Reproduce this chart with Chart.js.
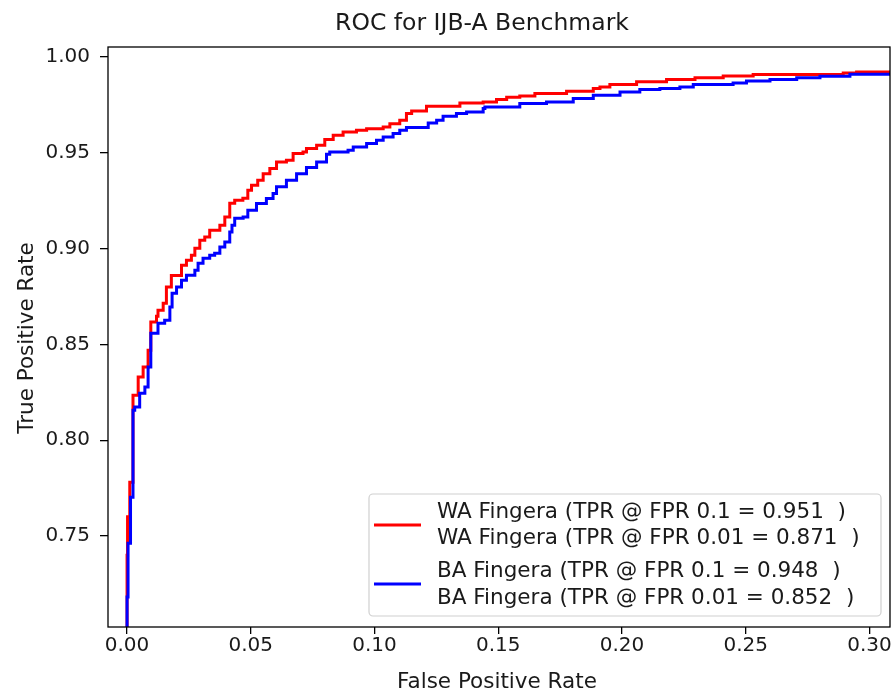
<!DOCTYPE html>
<html>
<head>
<meta charset="utf-8">
<script src="https://cdn.jsdelivr.net/npm/chart.js@4.4.1/dist/chart.umd.min.js"></script>
<style>
  html, body { margin: 0; padding: 0; background: #fff; }
  #roc { display: block; }
</style>
</head>
<body>
<canvas id="roc" width="892" height="695"></canvas>
<script>
// ROC curve (step points: x where TPR jumps, TPR after jump)
const waFpr = [0, 0, 0.0002, 0.0011, 0.0024, 0.0045, 0.0065, 0.0085, 0.0096, 0.0119,
  0.0125, 0.0146, 0.0159, 0.0179, 0.0220, 0.0240, 0.0260, 0.0274, 0.0294, 0.0314,
  0.0334, 0.0375, 0.0395, 0.0415, 0.0435, 0.0468, 0.0488, 0.0503, 0.0528, 0.0550,
  0.0577, 0.0604, 0.0644, 0.0671, 0.0711, 0.0725, 0.0766, 0.0799, 0.0833, 0.0873,
  0.0927, 0.0968, 0.1035, 0.1062, 0.1102, 0.1129, 0.1150, 0.1210, 0.1345, 0.1439,
  0.1493, 0.1534, 0.1587, 0.1648, 0.1776, 0.1884, 0.1911, 0.1951, 0.2059, 0.2180,
  0.2295, 0.2409, 0.2530, 0.2894, 0.2948, 0.32];
const waTpr = [0.700, 0.740, 0.760, 0.778, 0.8234, 0.833, 0.8382, 0.8469, 0.8617, 0.8647,
  0.8678, 0.8714, 0.880, 0.886, 0.8913, 0.8939, 0.8965, 0.9002, 0.9043, 0.9061,
  0.9096, 0.9122, 0.9165, 0.9236, 0.9252, 0.9263, 0.9304, 0.9330, 0.9356, 0.9391,
  0.9418, 0.9452, 0.9461, 0.9496, 0.9504, 0.9522, 0.9539, 0.9569, 0.9591, 0.9609,
  0.9617, 0.9626, 0.9635, 0.9652, 0.9670, 0.9705, 0.9718, 0.9743, 0.9760, 0.9765,
  0.9778, 0.9790, 0.9796, 0.9809, 0.9821, 0.9835, 0.9843, 0.9856, 0.9870, 0.9882,
  0.9892, 0.9901, 0.9908, 0.9916, 0.9922, 0.9922];

const baFpr = [0, 0, 0.0004, 0.0014, 0.0024, 0.0031, 0.0051, 0.0072, 0.0085, 0.0096,
  0.0125, 0.0152, 0.0173, 0.0182, 0.0200, 0.0220, 0.0240, 0.0274, 0.0287, 0.0307,
  0.0334, 0.0354, 0.0375, 0.0395, 0.0415, 0.0424, 0.0435, 0.0469, 0.0488, 0.0523,
  0.0563, 0.0590, 0.0604, 0.0644, 0.0685, 0.0725, 0.0766, 0.0806, 0.0819, 0.0893,
  0.0914, 0.0968, 0.1008, 0.1035, 0.1075, 0.1102, 0.1129, 0.1217, 0.1251, 0.1277,
  0.1331, 0.1372, 0.1439, 0.1446, 0.1587, 0.1695, 0.1803, 0.1884, 0.1992, 0.2072,
  0.2153, 0.2234, 0.2288, 0.2449, 0.2503, 0.2598, 0.2706, 0.2800, 0.2921, 0.32];
const baTpr = [0.700, 0.7181, 0.7462, 0.7702, 0.8156, 0.8173, 0.8245, 0.8278, 0.8382, 0.8558,
  0.8610, 0.8626, 0.8695, 0.8767, 0.8800, 0.8835, 0.8861, 0.8887, 0.8923, 0.8949,
  0.8965, 0.8976, 0.9008, 0.9034, 0.9087, 0.9122, 0.9158, 0.9165, 0.9200, 0.9235,
  0.9261, 0.9287, 0.9322, 0.9356, 0.9391, 0.9423, 0.9452, 0.9492, 0.9504, 0.9513,
  0.9530, 0.9548, 0.9565, 0.9582, 0.9600, 0.9617, 0.9632, 0.9656, 0.9670, 0.9691,
  0.9705, 0.9713, 0.9731, 0.9739, 0.9757, 0.9765, 0.9783, 0.9800, 0.9817, 0.9830,
  0.9835, 0.9843, 0.9856, 0.9864, 0.9875, 0.9882, 0.9892, 0.9899, 0.9910, 0.9910];

const xTicks = [0.00, 0.05, 0.10, 0.15, 0.20, 0.25, 0.30];
const yTicks = [0.75, 0.80, 0.85, 0.90, 0.95, 1.00];

const waLabels = ['WA Fingera (TPR @ FPR 0.1 = 0.951  )', 'WA Fingera (TPR @ FPR 0.01 = 0.871  )'];
const baLabels = ['BA Fingera (TPR @ FPR 0.1 = 0.948  )', 'BA Fingera (TPR @ FPR 0.01 = 0.852  )'];

const chartTitle = 'ROC for IJB-A Benchmark';
const xTitle = 'False Positive Rate';
const yTitle = 'True Positive Rate';

const FONT = '"DejaVu Sans", Verdana, sans-serif';
const TEXT = '#1a1a1a';

const toPoints = (xs, ys) => xs.map((x, i) => ({x: x, y: ys[i]}));

// frame, title, axis titles and the two-line legend
const decorations = {
    id: 'decorations',
    afterDraw(chart) {
        const {ctx, chartArea: a} = chart;
        ctx.save();
        ctx.strokeStyle = '#000';
        ctx.lineWidth = 1.3;
        ctx.strokeRect(a.left, a.top, a.right - a.left, a.bottom - a.top);

        ctx.fillStyle = TEXT;
        ctx.textAlign = 'center';
        ctx.textBaseline = 'alphabetic';
        ctx.font = '23.5px ' + FONT;
        ctx.fillText(chartTitle, 482, 30);

        ctx.font = '21.5px ' + FONT;
        ctx.fillText(xTitle, 497, 688);
        ctx.save();
        ctx.translate(33, 338);
        ctx.rotate(-Math.PI / 2);
        ctx.fillText(yTitle, 0, 0);
        ctx.restore();

        // legend box
        const bx = 369, by = 494, bw = 512, bh = 122, r = 4;
        ctx.beginPath();
        ctx.roundRect(bx, by, bw, bh, r);
        ctx.fillStyle = 'rgba(255,255,255,0.85)';
        ctx.fill();
        ctx.strokeStyle = '#d0d0d0';
        ctx.lineWidth = 1.2;
        ctx.stroke();

        const entries = [
            {color: chart.data.datasets[0].borderColor, lines: waLabels, handleY: 525, baselines: [517.5, 544]},
            {color: chart.data.datasets[1].borderColor, lines: baLabels, handleY: 584, baselines: [577, 603.5]}
        ];
        ctx.textAlign = 'left';
        ctx.font = '21.5px ' + FONT;
        entries.forEach(e => {
            ctx.strokeStyle = e.color;
            ctx.lineWidth = 3;
            ctx.beginPath();
            ctx.moveTo(374, e.handleY);
            ctx.lineTo(421, e.handleY);
            ctx.stroke();
            ctx.fillStyle = TEXT;
            e.lines.forEach((t, i) => ctx.fillText(t, 437, e.baselines[i]));
        });
        ctx.restore();
    }
};

new Chart(document.querySelector('#roc').getContext('2d'), {
    type: 'line',
    data: {
        datasets: [{
            label: waLabels.join(' / '),
            data: toPoints(waFpr, waTpr),
            borderColor: '#ff0000',
            backgroundColor: '#ff0000',
            borderWidth: 3,
            pointRadius: 0,
            stepped: true,
            fill: false,
            order: 1
        }, {
            label: baLabels.join(' / '),
            data: toPoints(baFpr, baTpr),
            borderColor: '#0000ff',
            backgroundColor: '#0000ff',
            borderWidth: 3,
            pointRadius: 0,
            stepped: true,
            fill: false,
            order: 0
        }]
    },
    options: {
        responsive: false,
        animation: false,
        devicePixelRatio: 1,
        layout: {padding: {top: 47, right: 2, left: 0, bottom: 0}},
        plugins: {
            legend: {display: false},
            title: {display: false},
            tooltip: {enabled: false}
        },
        scales: {
            x: {
                type: 'linear',
                min: -0.0077,
                max: 0.3083,
                afterBuildTicks: s => { s.ticks = xTicks.map(v => ({value: v})); },
                afterFit: s => { s.height = 68; },
                grid: {drawOnChartArea: false, drawTicks: true, tickLength: 7, color: '#000', lineWidth: 1.3},
                border: {display: false},
                ticks: {
                    color: TEXT,
                    font: {family: FONT, size: 20},
                    padding: 0,
                    maxRotation: 0,
                    autoSkip: false,
                    callback: v => v.toFixed(2)
                }
            },
            y: {
                type: 'linear',
                min: 0.7025,
                max: 1.0052,
                afterBuildTicks: s => { s.ticks = yTicks.map(v => ({value: v})); },
                afterFit: s => { s.width = 108; },
                grid: {drawOnChartArea: false, drawTicks: true, tickLength: 8, color: '#000', lineWidth: 1.3},
                border: {display: false},
                ticks: {
                    color: TEXT,
                    font: {family: FONT, size: 20},
                    padding: 10,
                    autoSkip: false,
                    callback: v => v.toFixed(2)
                }
            }
        }
    },
    plugins: [decorations]
});
</script>
</body>
</html>
